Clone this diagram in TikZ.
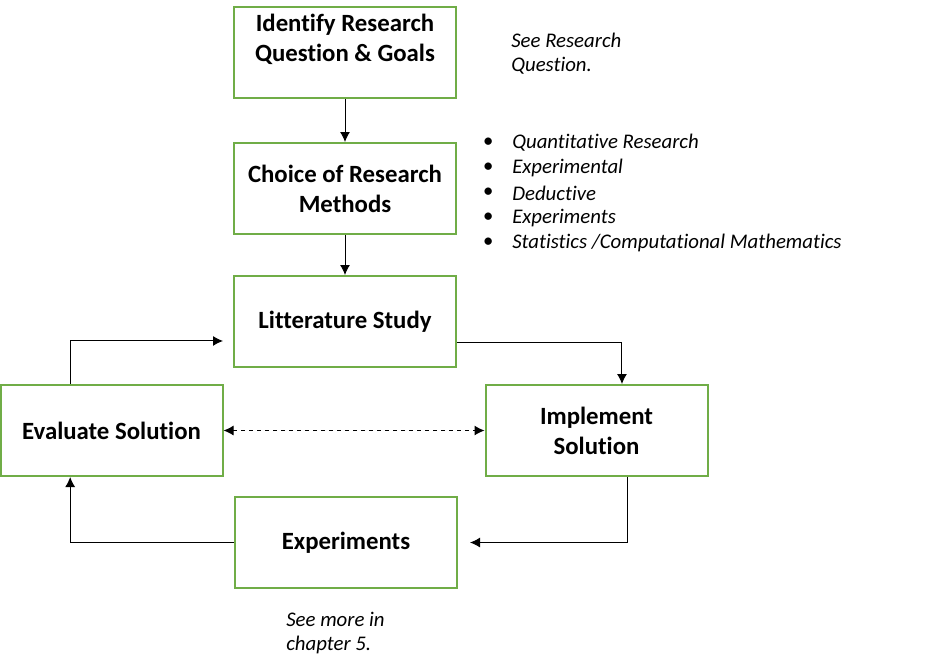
\documentclass[tikz,border=0pt]{standalone}
\usepackage{fontspec}
\setmainfont{Carlito}[RawFeature={-liga;-clig;-calt;-dlig}]
\usetikzlibrary{arrows.meta}
\definecolor{boxgreen}{RGB}{112,173,71}
\tikzset{
    block/.style={rectangle,draw=boxgreen,line width=1.5pt,minimum width=166.5pt,minimum height=68.25pt,
        align=center,font=\fontsize{18.6}{22.5}\selectfont\bfseries},
    dedge/.style={->,> = {Latex[length=7.5pt,width=7.5pt]}, draw=black, line width=0.75pt},
    ddash/.style={<->,> = {Latex[length=7.5pt,width=7.5pt]}, draw=black, line width=0.75pt, dashed},
    note/.style={align=left,font=\fontsize{15.6}{18}\selectfont\itshape,inner sep=0pt},
}
\begin{document}
\begin{tikzpicture}[x=0.75pt,y=-0.75pt]
    \useasboundingbox (0,0) rectangle (937,669);
    \node[block] (ident) at (345, 52.5) {Identify Research\\Question \& Goals\\~};
    \node[block] (choice) at (345, 188.5) {Choice of Research\\Methods};
    \node[block] (lit) at (345, 321.5) {Litterature Study};
    \node[block] (eval) at (111.5, 430.5) {Evaluate Solution};
    \node[block] (impl) at (596.5, 430.5) {Implement\\Solution};
    \node[block] (exper) at (346, 542.5) {Experiments};
    \node[note, anchor=west] (seeq) at (511, 54) {See Research\\Question.};
    \node[note, anchor=west] (seech) at (286, 633) {See more in\\chapter 5.};
    \foreach \t [count=\i] in {Quantitative Research, Experimental, Deductive, Experiments,
        Statistics /Computational Mathematics} {
        \node[note] (dot\i) at (488, 118+25*\i) {\textbullet};
        \node[note, anchor=west] (meth\i) at (512, 118+25*\i) {\t};
    }
    \draw[dedge] (ident) -- (choice);
    \draw[dedge] (choice) -- (lit);
    \draw[dedge] ([yshift=-16pt]lit.east) -| ([xshift=19.1pt]impl.north);
    \draw[dedge] ([xshift=-31pt]eval.north) |- ([xshift=-7.5pt,yshift=-14.6pt]lit.west);
    \draw[ddash] (eval) -- (impl);
    \draw[dedge] ([xshift=23.6pt]impl.south) |- ([xshift=9pt]exper.east);
    \draw[dedge] (exper.west) -| ([xshift=-31pt]eval.south);
\end{tikzpicture}
\end{document}
